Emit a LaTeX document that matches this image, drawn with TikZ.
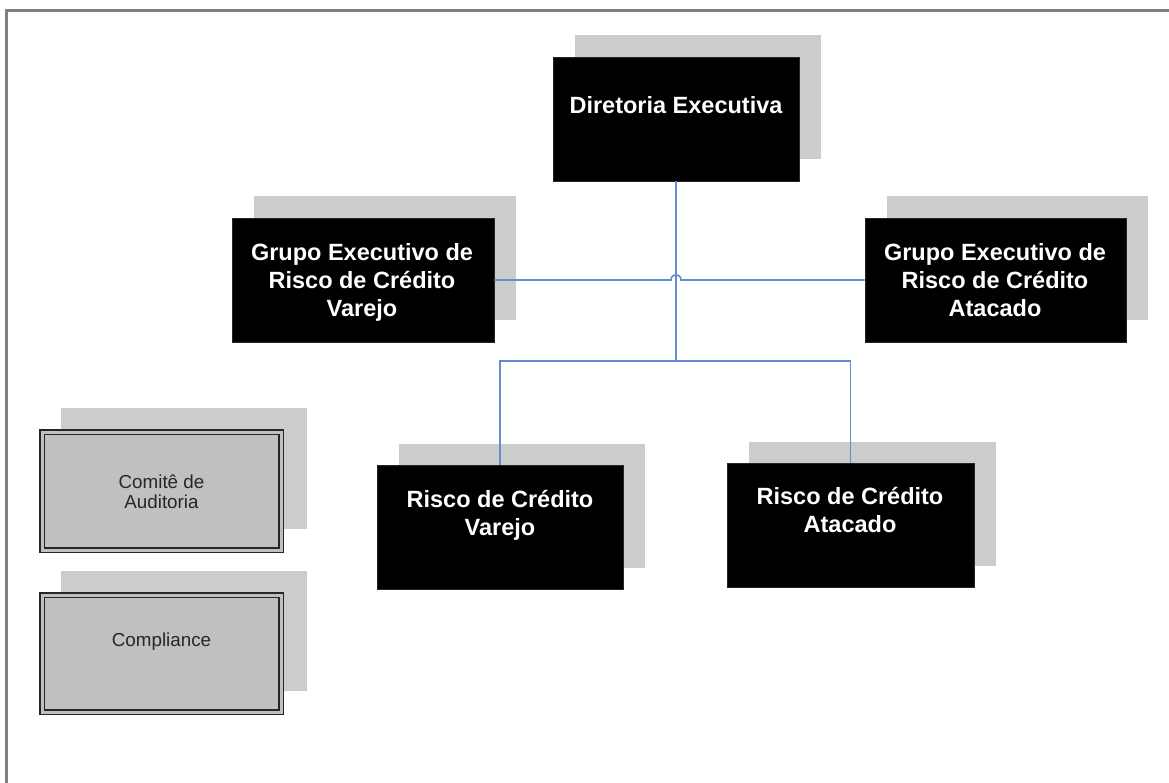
\documentclass[tikz,border=0pt]{standalone}
\usepackage{fontspec}
\setmainfont{Liberation Sans}
\usetikzlibrary{shadows}
\definecolor{shadowgray}{RGB}{204,204,204}
\definecolor{boxgray}{RGB}{192,192,192}
\definecolor{conn}{RGB}{95,140,212}
\definecolor{framegray}{RGB}{128,128,128}
\begin{document}
\begin{tikzpicture}[x=1pt,y=-1pt,
  shad/.style={drop shadow={shadow xshift=22pt,shadow yshift=21.5pt,opacity=1,fill=shadowgray}},
  gshad/.style={drop shadow={shadow xshift=22pt,shadow yshift=21.5pt,shadow scale=1.026,opacity=1,fill=shadowgray}},
  blackbox/.style={shad,fill=black,draw=black!85,line width=0.6pt,inner sep=0pt,minimum height=124pt},
  graybox/.style={gshad,fill=boxgray,draw=black!85,double=boxgray,double distance=3pt,line width=1.6pt,inner sep=0pt,minimum width=239pt},
  wtext/.style={text=white,font=\fontsize{23.5}{28}\selectfont\bfseries,align=center,inner sep=0pt},
  gtext/.style={text=black!85,font=\fontsize{18.8}{20}\selectfont,align=center,inner sep=0pt},
  connector/.style={draw=conn,line width=1.6pt}]
\useasboundingbox (0,0) rectangle (1169,783);
\draw[framegray,line width=3pt] (6.5,783) -- (6.5,10.5) -- (1169,10.5);

% boxes
\node[blackbox,minimum width=246pt] (dir) at (676,119) {};
\node[blackbox,minimum width=262pt] (gev) at (363,280) {};
\node[blackbox,minimum width=261pt] (gea) at (995.5,280) {};
\node[blackbox,minimum width=246pt] (rcv) at (500,527) {};
\node[blackbox,minimum width=247pt] (rca) at (850.5,525) {};
\node[graybox,minimum height=118pt] (com) at (161.5,491) {};
\node[graybox,minimum height=117pt] (cmp) at (161.5,653.5) {};

% texts
\node[wtext] (tdir) at (676,105) {Diretoria Executiva};
\node[wtext] (tgev) at (362,282.5) {Grupo Executivo de\\Risco de Crédito\\Varejo};
\node[wtext] (tgea) at (995,280.5) {Grupo Executivo de\\Risco de Crédito\\Atacado};
\node[wtext] (trcv) at (500,515) {Risco de Crédito\\Varejo};
\node[wtext] (trca) at (850,510) {Risco de Crédito\\Atacado};
\node[gtext] (tcom) at (161.5,492) {Comitê de\\Auditoria};
\node[gtext] (tcmp) at (161.5,642) {Compliance};

% connectors
\coordinate (j) at (676,361);
\coordinate (hl) at (671,280);
\coordinate (hr) at (681,280);
\draw[connector] (dir.south) -- (j);
\draw[connector] (gev.east) -- (hl) .. controls (671,273) and (681,273) .. (hr) -- (gea.west);
\draw[connector] (j) -| (rcv.north);
\draw[connector] (j) -| (rca.north);
\end{tikzpicture}
\end{document}
